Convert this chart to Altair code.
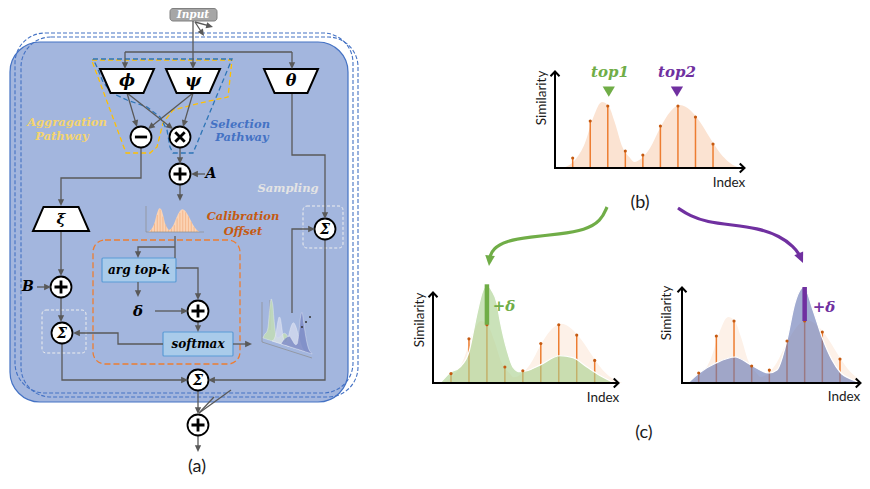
import math
import altair as alt
import pandas as pd

# ---------------- data ----------------
similarity = [10, 47, 62, 17, 13, 42, 62, 51, 24]
stem_index = [1, 2, 3, 4, 5, 6, 7, 8, 9]
orig_idx = [0.45, 1.13, 1.70, 2.16, 2.67, 3.01, 3.41, 3.81, 4.27, 4.50, 4.95,
            5.41, 5.98, 6.55, 7.12, 7.69, 8.26, 8.83, 9.40, 9.97, 10.54]
orig_val = [0, 8, 25, 50, 66, 63, 45, 22, 10, 6, 10, 20, 40, 56, 63, 58, 46, 30, 15, 5, 0]
top1_idx = [0.39, 0.94, 1.50, 2.00, 2.45, 2.73, 3.00, 3.28, 3.56, 3.73, 4.12, 4.45,
            4.84, 5.23, 5.95, 7.06, 7.79, 8.57, 9.29, 10.1]
top1_val = [0, 11, 17, 33, 74, 96, 104, 98, 85, 67, 35, 17, 12, 13, 19, 29, 27, 17, 8, 0]
top2_idx = [0.39, 1.02, 1.98, 3.06, 3.96, 4.98, 5.43, 6.00, 6.45, 6.96, 7.47, 7.98,
            8.55, 9.00, 9.74, 10.14]
top2_val = [0, 10, 20, 26, 18, 10, 13, 43, 80, 96, 73, 46, 23, 11, 3, 0]
top1_pos, top2_pos = 3, 7
delta_top1, delta_top2 = 43, 34

# ---------------- layout / style ----------------
GRAY = "#595959"
SERIF = "DejaVu Serif"
SANS = "Lato"
PANELS = {
    "b": dict(x0=572.7, dx=17.54, base=168, ys=1.0, ax=555, ytop=71, xend=745),
    "c1": dict(x0=451.0, dx=17.96, base=383, ys=0.94, ax=433, ytop=292, xend=619),
    "c2": dict(x0=698.7, dx=17.66, base=383, ys=1.0, ax=682, ytop=287, xend=861),
}

X = lambda f="x": alt.X(f"{f}:Q", scale=alt.Scale(domain=[8, 862], nice=False, zero=False), axis=None)
Y = lambda f="y": alt.Y(f"{f}:Q", scale=alt.Scale(domain=[8, 481], nice=False, zero=False, reverse=True), axis=None)


def px(p, i):
    return p["x0"] + (i - 1) * p["dx"]


def py(p, v):
    return p["base"] - v * p["ys"]


heads = []  # arrowheads


def add_head(end, prev, color=GRAY, size=55):
    dx, dy = end[0] - prev[0], end[1] - prev[1]
    L = math.hypot(dx, dy)
    ux, uy = dx / L, dy / L
    r = math.sqrt(size) / 2
    ang = math.degrees(math.atan2(ux, -uy)) % 360
    heads.append(dict(x=end[0] - ux * r, y=end[1] - uy * r, a=ang, c=color, s=size))
    return (end[0] - ux * r * 0.8, end[1] - uy * r * 0.8)


def poly_rows(polys):
    rows = []
    for pid, pts in enumerate(polys):
        for o, (x, y) in enumerate(pts):
            rows.append(dict(id=pid, o=o, x=x, y=y))
    return pd.DataFrame(rows)


# ---------- gray connector lines of panel (a) ----------
gray_polys = [
    ([(193, 21), (193, 52)], False),
    ([(125, 52), (292, 52)], False),
    ([(125, 52), (125, 69)], True),
    ([(193, 52), (193, 69)], True),
    ([(292, 52), (292, 69)], True),
    ([(195, 22), (213, 27)], True),
    ([(195, 22), (204, 36)], True),
    ([(127, 93), (137, 127)], True),
    ([(127, 93), (173, 129)], True),
    ([(193, 93), (148, 129)], True),
    ([(193, 93), (183, 127)], True),
    ([(180, 148), (180, 164)], True),
    ([(205, 174), (191, 174)], True),
    ([(180, 185), (180, 201)], True),
    ([(141, 148), (141, 178), (61, 178), (61, 206)], True),
    ([(61, 231), (61, 276)], True),
    ([(37, 287), (51, 287)], True),
    ([(61, 297), (61, 322)], True),
    ([(62, 344), (62, 380), (188, 380)], True),
    ([(292, 93), (292, 155), (325, 155), (325, 219)], True),
    ([(325, 240), (325, 380), (208, 380)], True),
    ([(292, 313), (292, 229), (315, 229)], True),
    ([(175, 236), (175, 258)], False),
    ([(175, 247), (138, 247), (138, 258)], True),
    ([(176, 268), (198, 268), (198, 300)], True),
    ([(138, 282), (138, 297)], True),
    ([(155, 311), (188, 311)], True),
    ([(198, 322), (198, 332)], True),
    ([(163, 344), (118, 344), (118, 333), (73, 333)], True),
    ([(233, 344), (252, 344)], True),
    ([(198, 391), (198, 414)], True),
    ([(231, 390), (199, 413)], False),
    ([(214, 397), (199, 413)], False),
    ([(198, 436), (198, 452)], True),
]
polys = []
for pts, arrow in gray_polys:
    pts = list(pts)
    if arrow:
        pts[-1] = add_head(pts[-1], pts[-2])
    polys.append(pts)
gray_df = poly_rows(polys)

# ---------- rounded rectangles ----------
def rect_layer(rows, **kw):
    return alt.Chart(pd.DataFrame(rows)).mark_rect(**kw).encode(
        x=X("x"), x2=alt.X2("x2"), y=Y("y"), y2=alt.Y2("y2"))


main_box = rect_layer([dict(x=10, x2=348, y=42, y2=402)], cornerRadius=30,
                      fill="#a3b6de", stroke="#4472c4", strokeWidth=1.2)
dash_boxes = rect_layer([dict(x=15, x2=353, y=33, y2=393), dict(x=21, x2=358, y=37, y2=397)],
                        cornerRadius=30, fillOpacity=0, fill="#ffffff", stroke="#4472c4",
                        strokeWidth=1.1, strokeDash=[4, 2])
input_box = rect_layer([dict(x=170, x2=217, y=8.5, y2=21)], cornerRadius=3,
                       fill="#a6a6a6", stroke="#808080", strokeWidth=1)
blue_boxes = rect_layer([dict(x=102, x2=176, y=258, y2=282), dict(x=163, x2=233, y=332, y2=356)],
                        cornerRadius=1, fill="#a9cbea", stroke="#5b9bd5", strokeWidth=1.2)
orange_box = rect_layer([dict(x=93, x2=240, y=240, y2=364)], cornerRadius=12, fillOpacity=0,
                        fill="#ffffff", stroke="#ed7d31", strokeWidth=1.3, strokeDash=[6, 3])
white_boxes = rect_layer([dict(x=42, x2=86, y=310, y2=353), dict(x=303, x2=343, y=206, y2=248)],
                         cornerRadius=4, fillOpacity=0, fill="#ffffff", stroke="#eeeeee",
                         strokeWidth=1, strokeDash=[3, 2])

# ---------- pathway dashed outlines ----------
yellow_path = [(92, 60), (232, 60), (228, 97), (200, 103), (173, 110), (163, 123),
               (157, 147), (150, 153), (126, 153), (92, 61)]
blue_path = [(93, 59), (232, 59), (193, 153), (173, 153), (170, 147), (167, 130), (160, 117),
             (147, 107), (127, 100), (112, 93), (103, 82), (97, 67), (93, 59)]
yellow_line = alt.Chart(poly_rows([yellow_path])).mark_line(
    color="#ffc000", strokeWidth=1.3, strokeDash=[5, 3]).encode(
    x=X(), y=Y(), detail="id:N", order="o:Q")
blue_line = alt.Chart(poly_rows([blue_path])).mark_line(
    color="#2e75b6", strokeWidth=1.3, strokeDash=[5, 3]).encode(
    x=X(), y=Y(), detail="id:N", order="o:Q")

gray_lines = alt.Chart(gray_df).mark_line(color=GRAY, strokeWidth=1.3).encode(
    x=X(), y=Y(), detail="id:N", order="o:Q")

# ---------- trapezoids ----------
trap_down = "M-1,-0.444 L1,-0.444 L0.61,0.444 L-0.61,0.444 Z"
trap_up = "M-0.625,-0.43 L0.625,-0.43 L1,0.43 L-1,0.43 Z"
traps_down = alt.Chart(pd.DataFrame(dict(x=[127, 193, 291], y=[81, 81, 81]))).mark_point(
    shape=trap_down, size=2916, filled=True, fill="white", stroke="black", strokeWidth=2,
    opacity=1).encode(x=X(), y=Y())
traps_up = alt.Chart(pd.DataFrame(dict(x=[61], y=[219]))).mark_point(
    shape=trap_up, size=3136, filled=True, fill="white", stroke="black", strokeWidth=2,
    opacity=1).encode(x=X(), y=Y())

# ---------- operator circles ----------
nodes = [(141, 137, "minus"), (180, 137, "times"), (180, 174, "plus"), (61, 287, "plus"),
         (62, 333, "sigma"), (325, 229, "sigma"), (198, 311, "plus"), (198, 380, "sigma"),
         (198, 425, "plus")]
node_df = pd.DataFrame([dict(x=a, y=b, k=k) for a, b, k in nodes])
circles = alt.Chart(node_df).mark_point(shape="circle", size=441, filled=True, fill="white",
                                        stroke="black", strokeWidth=1.8, opacity=1).encode(x=X(), y=Y())
sym_paths = {"plus": "M-0.62,0 L0.62,0 M0,-0.62 L0,0.62",
             "minus": "M-0.58,0 L0.58,0",
             "times": "M-0.45,-0.45 L0.45,0.45 M-0.45,0.45 L0.45,-0.45"}
sym_layers = []
for k, pth in sym_paths.items():
    sub = node_df[node_df.k == k]
    sym_layers.append(alt.Chart(sub).mark_point(shape=pth, size=441, filled=False, stroke="black",
                                                strokeWidth=2.8, opacity=1).encode(x=X(), y=Y()))

# ---------- small thumbnails inside (a) ----------
thumb_area_rows = []
for i, v in zip(orig_idx, orig_val):
    thumb_area_rows.append(dict(g=0, x=148 + (i - 0.45) * 5.15, y=232 - v * 0.36, y2=232))
thumb_area = alt.Chart(pd.DataFrame(thumb_area_rows)).mark_area(
    color="#fbd3b4", interpolate="monotone").encode(x=X(), y=Y(), y2=alt.Y2("y2"))
thumb_stems = []
for j in range(18):
    t = 0.6 + j * 0.55
    best = min(range(len(orig_idx)), key=lambda q: abs(orig_idx[q] - t))
    thumb_stems.append([(148 + (t - 0.45) * 5.15, 232), (148 + (t - 0.45) * 5.15, 232 - orig_val[best] * 0.34)])
thumb_stem_layer = alt.Chart(poly_rows(thumb_stems)).mark_line(color="#f4b183", strokeWidth=0.8).encode(
    x=X(), y=Y(), detail="id:N", order="o:Q")
thumb_axes = alt.Chart(poly_rows([[(146, 206), (146, 232), (204, 232)], [(262, 302), (262, 342)],
                                  [(262, 342), (312, 358)], [(270, 300), (270, 330)]])).mark_line(
    color="#8c8c8c", strokeWidth=0.7).encode(x=X(), y=Y(), detail="id:N", order="o:Q")

d3_rows = []
for k, (idxs, vals, col) in enumerate([(top1_idx, top1_val, "#c5e0b4"), (orig_idx, orig_val, "#d4dbef"),
                                        (top2_idx, top2_val, "#7b88c4")]):
    for i, v in zip(idxs, vals):
        t = (i - 0.4) * 3.2
        base = 338 + k * 3 + t * 0.32
        d3_rows.append(dict(g=k, c=col, x=263 + k * 9 + t, y=base - v * 0.4, y2=base))
d3_area = alt.Chart(pd.DataFrame(d3_rows)).mark_area(opacity=0.8, interpolate="monotone",
                                                      stroke="#ffffff", strokeWidth=0.4).encode(
    x=X(), y=Y(), y2=alt.Y2("y2"), color=alt.Color("c:N", scale=None), detail="g:N")
dots = alt.Chart(pd.DataFrame(dict(x=[302, 306, 310], y=[327, 322, 317]))).mark_point(
    shape="circle", size=4, filled=True, color="#333333", opacity=1).encode(x=X(), y=Y())

# ---------- panels (b) and (c) ----------
peach_rows, stem_rows, dot_rows, axis_polys, chev = [], [], [], [], []
for key, p in PANELS.items():
    col = "#fbe3d2" if key == "b" else "#fdf1e8"
    for i, v in zip(orig_idx, orig_val):
        xx = px(p, i)
        if xx <= 861:
            peach_rows.append(dict(g=key, c=col, x=xx, y=py(p, v), y2=p["base"]))
    for i, v in zip(stem_index, similarity):
        stem_rows.append(dict(id=f"{key}{i}", o=0, x=px(p, i), y=p["base"]))
        stem_rows.append(dict(id=f"{key}{i}", o=1, x=px(p, i), y=py(p, v)))
        dot_rows.append(dict(x=px(p, i), y=py(p, v)))
    axis_polys.append([(p["ax"], p["ytop"] + 1), (p["ax"], p["base"]), (p["xend"] - 1, p["base"])])
    chev.append(dict(x=p["ax"], y=p["ytop"] + 1.5, a=0))
    chev.append(dict(x=p["xend"] - 1.5, y=p["base"], a=90))

peach = alt.Chart(pd.DataFrame(peach_rows)).mark_area(interpolate="monotone").encode(
    x=X(), y=Y(), y2=alt.Y2("y2"), color=alt.Color("c:N", scale=None), detail="g:N")
stems = alt.Chart(pd.DataFrame(stem_rows)).mark_line(color="#ed7d31", strokeWidth=1.5).encode(
    x=X(), y=Y(), detail="id:N", order="o:Q")
stem_dots = alt.Chart(pd.DataFrame(dot_rows)).mark_point(shape="circle", size=10, filled=True,
                                                          color="#c55a11", opacity=1).encode(x=X(), y=Y())

cal_rows = []
for key, idxs, vals, col in [("c1", top1_idx, top1_val, "#a9d18e"), ("c2", top2_idx, top2_val, "#6878b4")]:
    p = PANELS[key]
    for i, v in zip(idxs, vals):
        cal_rows.append(dict(g=key, c=col, x=px(p, i), y=py(p, v), y2=p["base"]))
cal_df = pd.DataFrame(cal_rows)
cal_area = alt.Chart(cal_df).mark_area(interpolate="monotone", opacity=0.62).encode(
    x=X(), y=Y(), y2=alt.Y2("y2"), color=alt.Color("c:N", scale=None), detail="g:N")
cal_outline = alt.Chart(cal_df.assign(o=range(len(cal_df)))).mark_line(
    interpolate="monotone", color="white", strokeWidth=1.2).encode(
    x=X(), y=Y(), detail="g:N", order="o:Q")

pc1, pc2 = PANELS["c1"], PANELS["c2"]
bars = pd.DataFrame([
    dict(id=0, o=0, c="#70ad47", x=px(pc1, top1_pos), y=py(pc1, similarity[top1_pos - 1])),
    dict(id=0, o=1, c="#70ad47", x=px(pc1, top1_pos), y=py(pc1, similarity[top1_pos - 1] + delta_top1)),
    dict(id=1, o=0, c="#7030a0", x=px(pc2, top2_pos), y=py(pc2, similarity[top2_pos - 1])),
    dict(id=1, o=1, c="#7030a0", x=px(pc2, top2_pos), y=py(pc2, similarity[top2_pos - 1] + delta_top2)),
])
delta_bars = alt.Chart(bars).mark_line(strokeWidth=4.5, strokeCap="butt").encode(
    x=X(), y=Y(), detail="id:N", order="o:Q", color=alt.Color("c:N", scale=None))

axes_lines = alt.Chart(poly_rows(axis_polys)).mark_line(color="black", strokeWidth=2).encode(
    x=X(), y=Y(), detail="id:N", order="o:Q")
chevrons = alt.Chart(pd.DataFrame(chev)).mark_point(
    shape="M-0.9,0.75 L0,-0.2 L0.9,0.75", size=100, filled=False, stroke="black", strokeWidth=2,
    opacity=1).encode(x=X(), y=Y(), angle=alt.Angle("a:Q", scale=None))

# top markers
tri_df = pd.DataFrame([dict(x=px(PANELS["b"], top1_pos) + 1, y=91, c="#70ad47"),
                       dict(x=px(PANELS["b"], top2_pos) - 1, y=91, c="#7030a0")])
top_tris = alt.Chart(tri_df).mark_point(shape="M-1,-0.75 L1,-0.75 L0,0.95 Z", size=150, filled=True,
                                         opacity=1).encode(x=X(), y=Y(), color=alt.Color("c:N", scale=None))

# curved arrows between (b) and (c)
green_curve = [(607, 207), (601, 221), (585, 230), (560, 234), (530, 237), (505, 241), (493, 249), (490, 256)]
purple_curve = [(678, 208), (690, 216), (707, 222), (732, 225), (757, 228), (780, 236), (794, 247), (799, 254)]
green_tip = add_head((489, 266), (490, 256), color="#70ad47", size=130)
purple_tip = add_head((803, 263), (799, 254), color="#7030a0", size=130)
curve_rows = []
for cid, (pts, col) in enumerate([(green_curve + [green_tip], "#70ad47"), (purple_curve + [purple_tip], "#7030a0")]):
    for o, (x, y) in enumerate(pts):
        curve_rows.append(dict(id=cid, o=o, x=x, y=y, c=col))
curves = alt.Chart(pd.DataFrame(curve_rows)).mark_line(strokeWidth=3.2, interpolate="basis").encode(
    x=X(), y=Y(), detail="id:N", order="o:Q", color=alt.Color("c:N", scale=None))

head_layer = alt.Chart(pd.DataFrame(heads)).mark_point(
    shape="M0,-1 L0.85,0.85 L-0.85,0.85 Z", filled=True, opacity=1).encode(
    x=X(), y=Y(), angle=alt.Angle("a:Q", scale=None), color=alt.Color("c:N", scale=None),
    size=alt.Size("s:Q", scale=None))

# ---------- texts ----------
serif_texts = [
    ("Input", 193, 15, "#ffffff", 10.5),
    ("ϕ", 127, 81, "#000000", 17), ("ψ", 193, 81, "#000000", 17), ("θ", 291, 81, "#000000", 16),
    ("ξ", 61, 219, "#000000", 15),
    ("Aggragation", 67, 123, "#f4d46e", 11.5), ("Pathway", 62, 137, "#f4d46e", 11.5),
    ("Selection", 240, 125, "#4472c4", 11.5), ("Pathway", 242, 138, "#4472c4", 11.5),
    ("A", 211, 174, "#000000", 14), ("B", 28, 287, "#000000", 14),
    ("Σ", 62, 333.5, "#000000", 14), ("Σ", 325, 229.5, "#000000", 14), ("Σ", 198, 380.5, "#000000", 14),
    ("Calibration", 243, 217, "#c55a11", 11.5), ("Offset", 243, 232, "#c55a11", 11.5),
    ("Sampling", 288, 189, "#e4e4e4", 11.5),
    ("arg top-k", 139, 270, "#000000", 12), ("δ", 138, 311, "#000000", 15),
    ("softmax", 198, 344, "#000000", 12),
    ("top1", 610, 72, "#70ad47", 15), ("top2", 677, 72, "#7030a0", 15),
    ("+δ", 504, 306, "#70ad47", 15), ("+δ", 824, 307, "#7030a0", 15),
]
serif_df = pd.DataFrame([dict(t=t, x=x, y=y, c=c, s=s) for t, x, y, c, s in serif_texts])
serif_layer = alt.Chart(serif_df).mark_text(font=SERIF, fontStyle="italic", fontWeight="bold",
                                            align="center", baseline="middle").encode(
    x=X(), y=Y(), text="t:N", color=alt.Color("c:N", scale=None), size=alt.Size("s:Q", scale=None))

sans_texts = [
    ("(a)", 197, 467, 18, 0), ("(b)", 640, 203, 18, 0), ("(c)", 644, 433, 18, 0),
    ("Similarity", 542, 98, 13.5, 270), ("Similarity", 420, 320, 13.5, 270), ("Similarity", 667, 313, 13.5, 270),
    ("Index", 729, 183, 13.5, 0), ("Index", 603, 398, 13.5, 0), ("Index", 844, 397, 13.5, 0),
]
sans_df = pd.DataFrame([dict(t=t, x=x, y=y, s=s, a=a) for t, x, y, s, a in sans_texts])
sans_layer = alt.Chart(sans_df).mark_text(font=SANS, color="#1a1a1a", align="center",
                                          baseline="middle").encode(
    x=X(), y=Y(), text="t:N", size=alt.Size("s:Q", scale=None), angle=alt.Angle("a:Q", scale=None))

chart = alt.layer(
    main_box, dash_boxes, input_box,
    yellow_line, blue_line,
    orange_box, white_boxes, blue_boxes,
    thumb_area, thumb_stem_layer, thumb_axes, d3_area, dots,
    gray_lines,
    traps_down, traps_up, circles, *sym_layers,
    peach, stems, cal_area, cal_outline, stem_dots, delta_bars,
    axes_lines, chevrons, top_tris, curves, head_layer,
    serif_layer, sans_layer,
).properties(width=854, height=473, padding=0, background="white",
             autosize=alt.AutoSizeParams(type="none")).configure_view(strokeWidth=0)

chart.save("out.html", embed_options={"renderer": "svg", "actions": False})
